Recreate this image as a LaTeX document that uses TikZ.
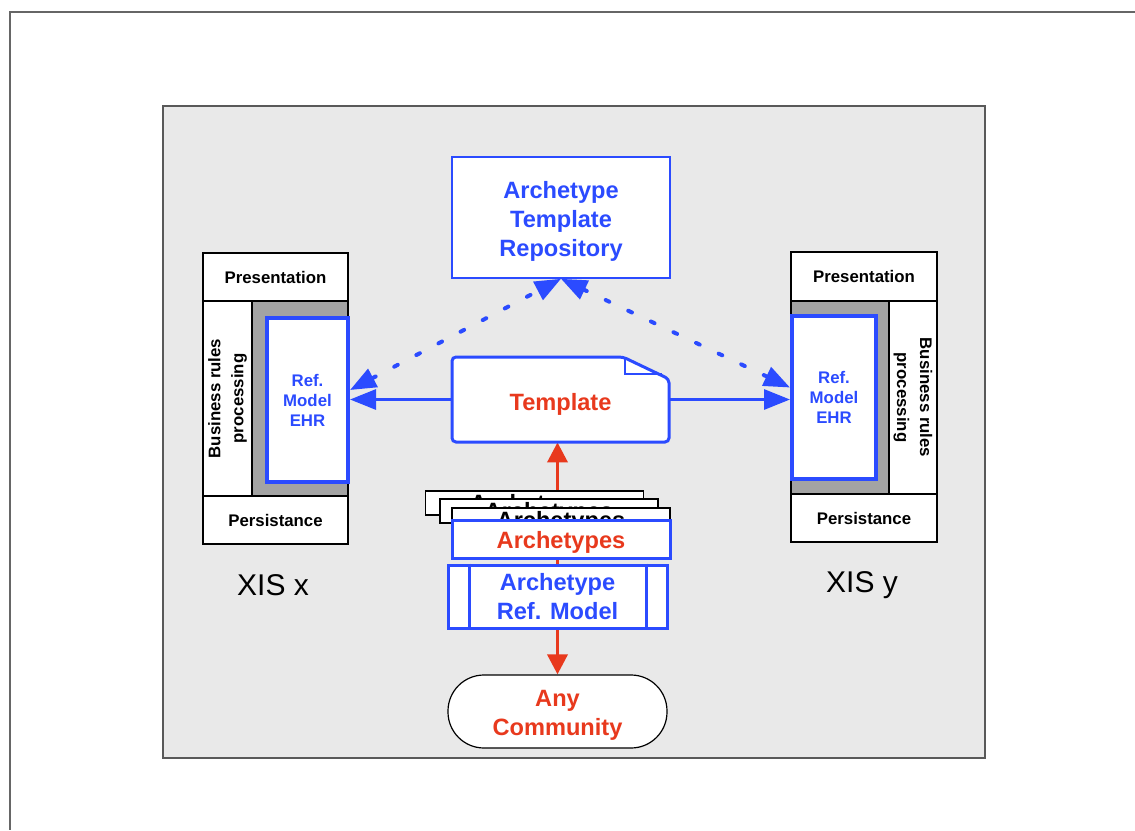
\documentclass[tikz,border=0pt]{standalone}
\usepackage{fontspec}
\setmainfont{Liberation Sans}
\usetikzlibrary{arrows.meta}
\definecolor{bblue}{HTML}{2B4BFF}
\definecolor{rred}{HTML}{E8391D}
\definecolor{panelgray}{HTML}{E9E9E9}
\definecolor{midgray}{HTML}{A3A3A3}
\pgfdeclarelayer{bg}
\pgfdeclarelayer{mid}
\pgfsetlayers{bg,mid,main}
\newcommand{\bigtxt}{\fontsize{11.8}{14.5}\selectfont\bfseries}
\newcommand{\smalltxt}{\fontsize{8.4}{10}\selectfont\bfseries}
\tikzset{
  box/.style={draw, fill=white, inner sep=0pt, align=center},
  layerbox/.style={box, line width=0.6pt, font=\smalltxt},
  bizbox/.style={layerbox, font=\fontsize{8.4}{11.5}\selectfont\bfseries},
  refbox/.style={box, draw=bblue, line width=2pt, text=bblue, font=\smalltxt},
  bluebox/.style={box, draw=bblue, line width=1.5pt, font=\bigtxt},
  lowtext/.style={yshift=-2pt, inner sep=0pt, align=center, font=\bigtxt},
  sheet/.style={box, line width=0.6pt, font=\bigtxt, minimum width=109pt, text height=10pt, text depth=2pt},
  tip/.style={-{Triangle[length=13pt,width=10pt]}},
  bitip/.style={{Triangle[length=13pt,width=10pt]}-{Triangle[length=13pt,width=10pt]}},
}
\begin{document}
\begin{tikzpicture}[x=0.5pt,y=-0.5pt]  % openEHR archetype architecture
	\useasboundingbox (0,0) rectangle (1135,830);
	\begin{pgfonlayer}{bg}
		\draw[line width=1pt, black!60] (1135,12) -- (10,12) -- (10,830);
		\draw[line width=0.8pt, black!65, fill=panelgray] (163,106) rectangle (985,758);
	\end{pgfonlayer}

	\node[bluebox, line width=0.8pt, minimum width=109pt, minimum height=60.5pt,
		label={[name=repotext, lowtext, text=bblue]center:Archetype\\Template\\Repository}] (repo) at (561,217.5) {};

	% template document with folded corner
	\draw[bblue, line width=1.5pt, fill=white, rounded corners=2pt] (452,357) -- (623,357) -- (669,379) -- (669,442) -- (452,442) -- cycle;
	\draw[bblue, line width=1.2pt] (625,357) -- (625,374) -- (662,374);
	\node[inner sep=0pt, minimum width=108.5pt, minimum height=42.5pt,
		label={[name=tmpltext, lowtext, yshift=-0.5pt, text=rred]center:Template}] (tmpl) at (560.5,399.5) {};

	% XIS x
	\node[layerbox, minimum width=72.5pt, minimum height=24pt] (lpres) at (275.5,277) {Presentation};
	\node[bizbox, rotate=90, minimum width=97.5pt, minimum height=24.5pt] (lbiz) at (227.5,398.5) {Business rules\\processing};
	\node[layerbox, fill=midgray, minimum width=48pt, minimum height=97.5pt] (lgray) at (300,398.5) {};
	\node[refbox, minimum width=40.5pt, minimum height=82pt] (lref) at (307.5,400) {Ref.\\Model\\EHR};
	\node[layerbox, minimum width=72.5pt, minimum height=24pt] (lpers) at (275.5,520) {Persistance};
	\node[font=\fontsize{15}{18}\selectfont] (lname) at (273,585) {XIS x};

	% XIS y
	\node[layerbox, minimum width=73pt, minimum height=24.5pt] (rpres) at (864,276.5) {Presentation};
	\node[layerbox, fill=midgray, minimum width=49pt, minimum height=96.5pt] (rgray) at (840,397.5) {};
	\node[bizbox, rotate=-90, minimum width=96.5pt, minimum height=24pt] (rbiz) at (913,397.5) {Business rules\\processing};
	\node[refbox, minimum width=42pt, minimum height=81.5pt] (rref) at (834,397.5) {Ref.\\Model\\EHR};
	\node[layerbox, minimum width=73pt, minimum height=24pt] (rpers) at (864,518) {Persistance};
	\node[font=\fontsize{15}{18}\selectfont] (rname) at (862,585) {XIS y};

	% archetype stack
	\node[sheet] (arch1) at (534.5,503) {Archetypes};
	\node[sheet] (arch2) at (549,511) {Archetypes};
	\node[sheet] (arch3) at (561,520) {Archetypes};
	\node[bluebox, minimum width=109pt, minimum height=19pt,
		label={[name=archtext, lowtext, yshift=0.5pt, text=rred]center:Archetypes}] (arch) at (561,539) {};
	\node[bluebox, text=bblue, minimum width=109.5pt, minimum height=31.5pt] (armodel) at (557.5,596.5) {Archetype\\Ref. Model};
	\draw[bblue, line width=1.5pt] ([xshift=11.5pt]armodel.north west) -- ([xshift=11.5pt]armodel.south west);
	\draw[bblue, line width=1.5pt] ([xshift=-11pt]armodel.north east) -- ([xshift=-11pt]armodel.south east);
	\node[box, line width=0.6pt, rounded corners=18pt, minimum width=109.5pt, minimum height=36.5pt,
		label={[name=commtext, lowtext, text=rred]center:Any\\Community}] (comm) at (557.5,711.5) {};

	% connectors
	\draw[bblue, line width=1.5pt, tip] (tmpl.west) -- (lref.east |- tmpl.west);
	\draw[bblue, line width=1.5pt, tip] (tmpl.east) -- (rref.west |- tmpl.east);
	\draw[bblue, line width=2pt, line cap=round, dash pattern=on 2pt off 10.5pt, bitip] ([yshift=5pt]lref.east) -- (repo.south);
	\draw[bblue, line width=2pt, line cap=round, dash pattern=on 2pt off 10.5pt, bitip] ([yshift=5pt]rref.west) -- (repo.south);
	\begin{pgfonlayer}{mid}
		\draw[rred, line width=1.8pt, -{Triangle[length=10pt,width=10pt]}] (armodel.center) -- (armodel.center |- tmpl.south);
		\draw[rred, line width=1.8pt, -{Triangle[length=10pt,width=10pt]}] (armodel.center) -- (comm.north);
	\end{pgfonlayer}
\end{tikzpicture}
\end{document}
